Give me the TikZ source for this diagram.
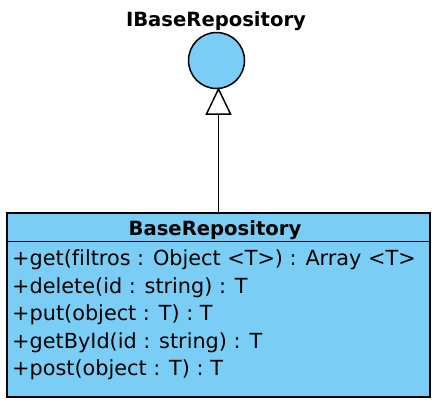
\documentclass[tikz,border=0pt]{standalone}
\usepackage{fontspec}
\setmainfont[Ligatures=NoCommon]{DejaVu Sans}
\definecolor{umlblue}{RGB}{122,206,245}
\begin{document}
\begin{tikzpicture}[x=1pt,y=-1pt,
  umlline/.style={line width=1.5pt,draw=black},
  titletext/.style={font=\bfseries\fontsize{19.6}{22}\selectfont,inner sep=0pt,anchor=base},
  methodtext/.style={font=\fontsize{20.8}{24}\selectfont,inner sep=0pt,anchor=base west}]
\useasboundingbox (0,0) rectangle (436,402);
% interface
\node[titletext] (ilabel) at (216,26) {IBaseRepository};
\node[circle,umlline,fill=umlblue,minimum size=56pt,inner sep=0pt] (iface) at (216.5,60.5) {};
% class box
\fill[gray!60] (8,214) rectangle (431,398);
\node[draw=black,line width=1.5pt,fill=umlblue,minimum width=423pt,minimum height=184pt,inner sep=0pt,anchor=north west] (cls) at (6,212) {};
\draw[umlline] (6,241.5) -- (429,241.5);
\node[titletext] (cname) at (215,235) {BaseRepository};
\node[methodtext] (m1) at (12,265.5) {+get(filtros : Object <T>) : Array <T>};
\node[methodtext] (m2) at (12,293) {+delete(id : string) : T};
\node[methodtext] (m3) at (12,320.5) {+put(object : T) : T};
\node[methodtext] (m4) at (12,348) {+getById(id : string) : T};
\node[methodtext] (m5) at (12,375.5) {+post(object : T) : T};
% realization arrow
\coordinate (tip) at (iface.south);
\draw[line width=1.5pt,fill=white,line join=miter] (218.5,89) -- (230.5,114) -- (206.5,114) -- cycle;
\draw[umlline] (218.5,114) -- (218.5,212);
\end{tikzpicture}
\end{document}
